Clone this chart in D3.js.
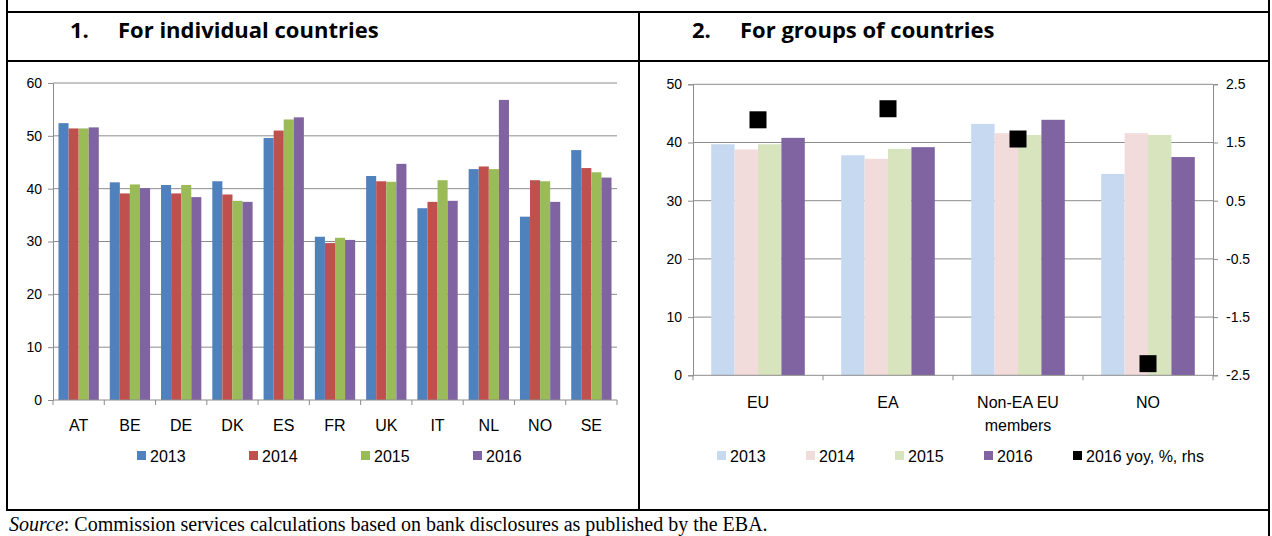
<!DOCTYPE html>
<html>
<head>
<meta charset="utf-8">
<script src="https://cdn.jsdelivr.net/npm/d3@7"></script>
<style>
  html, body { margin: 0; padding: 0; background: #fff; }
  svg { display: block; }
  .lbl { font-family: "Liberation Sans Narrow", "Arial Narrow", "Liberation Sans", sans-serif; fill: #000; }
  .hdr { font-family: "Open Sans", "Liberation Sans", Arial, sans-serif; font-weight: bold; font-size: 22px; fill: #000; }
  .src { font-family: "Liberation Serif", "Times New Roman", serif; font-size: 20px; fill: #000; }
</style>
</head>
<body>
<svg id="chart" width="1272" height="536"></svg>
<script>
// Panel 1: individual countries
const countries = ["AT", "BE", "DE", "DK", "ES", "FR", "UK", "IT", "NL", "NO", "SE"];
const years = ["2013", "2014", "2015", "2016"];
const country2013 = [52.4, 41.2, 40.7, 41.4, 49.6, 30.9, 42.4, 36.3, 43.7, 34.7, 47.3];
const country2014 = [51.4, 39.1, 39.1, 38.9, 51.0, 29.7, 41.4, 37.5, 44.2, 41.6, 43.9];
const country2015 = [51.4, 40.8, 40.7, 37.7, 53.1, 30.7, 41.3, 41.6, 43.7, 41.4, 43.1];
const country2016 = [51.6, 40.1, 38.4, 37.5, 53.5, 30.3, 44.7, 37.7, 56.8, 37.5, 42.1];
const countryTicks = [0, 10, 20, 30, 40, 50, 60];

// Panel 2: groups of countries
const groups = ["EU", "EA", "Non-EA EU members", "NO"];
const group2013 = [39.7, 37.8, 43.2, 34.6];
const group2014 = [38.8, 37.2, 41.6, 41.6];
const group2015 = [39.7, 38.9, 41.3, 41.3];
const group2016 = [40.8, 39.2, 43.9, 37.5];
const groupYoy2016 = [1.89, 2.08, 1.56, -2.30];
const groupTicks = [0, 10, 20, 30, 40, 50];
const yoyTicks = [-2.5, -1.5, -0.5, 0.5, 1.5, 2.5];
const yoyLabel = "2016 yoy, %, rhs";

const colorsBright = ["#4F81BD", "#C0504D", "#9BBB59", "#8064A2"];
const colorsPale = ["#C6D9F1", "#F2DCDB", "#D7E4BD", "#8064A2"];

const svg = d3.select("#chart");
const gridColor = "#8c8c8c";

// ---- table frame ----
const frame = svg.append("g").attr("stroke", "#000").attr("stroke-width", 2);
[[7, 0, 7, 510], [1269, 0, 1269, 536], [639, 12, 639, 510],
 [6, 12, 1270, 12], [6, 61, 1270, 61], [6, 510, 1270, 510]]
  .forEach(([x1, y1, x2, y2]) => frame.append("line")
    .attr("x1", x1).attr("y1", y1).attr("x2", x2).attr("y2", y2));

// panel headings
function heading(x, num, title) {
  svg.append("text").attr("class", "hdr").attr("x", x).attr("y", 38).text(num);
  svg.append("text").attr("class", "hdr").attr("x", x + 48).attr("y", 38).text(title);
}
heading(70, "1.", "For individual countries");
heading(692, "2.", "For groups of countries");

// source line
const src = svg.append("text").attr("class", "src").attr("x", 9).attr("y", 531);
src.append("tspan").attr("font-style", "italic").text("Source");
src.append("tspan").text(": Commission services calculations based on bank disclosures as published by the EBA.");

function styleAxis(g) {
  g.select(".domain").attr("stroke", gridColor);
  g.selectAll(".tick line").attr("stroke", gridColor);
}

// ---- Panel 1 ----
(function () {
  const left = 53, right = 617, top = 83, bottom = 400;
  const series = [country2013, country2014, country2015, country2016];
  const x0 = d3.scaleBand().domain(countries).range([left, right]).paddingInner(0.214).paddingOuter(0.107);
  const x1 = d3.scaleBand().domain(years).range([0, x0.bandwidth()]);
  const y = d3.scaleLinear().domain([0, 60]).range([bottom, top]);

  svg.append("g").selectAll("line").data(countryTicks.filter(t => t > 0)).join("line")
    .attr("x1", left).attr("x2", right)
    .attr("y1", d => y(d)).attr("y2", d => y(d))
    .attr("stroke", gridColor).attr("stroke-width", 1);

  const yAxis = svg.append("g").attr("transform", `translate(${left},0)`)
    .call(d3.axisLeft(y).tickValues(countryTicks).tickSize(5).tickPadding(6));
  styleAxis(yAxis);
  yAxis.selectAll("text").attr("class", "lbl").attr("font-size", 14).attr("fill", "#1a1a1a");

  const bars = svg.append("g");
  countries.forEach((c, i) => {
    years.forEach((yr, j) => {
      const v = series[j][i];
      bars.append("rect")
        .attr("x", x0(c) + x1(yr)).attr("width", x1.bandwidth())
        .attr("y", y(v)).attr("height", y(0) - y(v))
        .attr("fill", colorsBright[j]);
    });
  });

  // category axis with ticks at group boundaries
  const bounds = countries.map(c => x0(c) - x0.step() * x0.paddingInner() / 2).concat([right]);
  const xa = svg.append("g");
  xa.append("line").attr("x1", left).attr("x2", right).attr("y1", bottom).attr("y2", bottom)
    .attr("stroke", gridColor);
  xa.selectAll(".tk").data(bounds).join("line").attr("class", "tk")
    .attr("x1", d => d).attr("x2", d => d).attr("y1", bottom).attr("y2", bottom + 5)
    .attr("stroke", gridColor);
  xa.selectAll("text").data(countries).join("text").attr("class", "lbl")
    .attr("x", d => x0(d) + x0.bandwidth() / 2).attr("y", 431)
    .attr("text-anchor", "middle").attr("font-size", 16).text(d => d);

  // legend
  const lg = svg.append("g");
  years.forEach((yr, j) => {
    const lx = 137 + j * 112;
    lg.append("rect").attr("x", lx).attr("y", 451).attr("width", 9).attr("height", 9).attr("fill", colorsBright[j]);
    lg.append("text").attr("class", "lbl").attr("x", lx + 13).attr("y", 462).attr("font-size", 16).text(yr);
  });
})();

// ---- Panel 2 ----
(function () {
  const left = 693, right = 1213, top = 84.3, bottom = 375.3;
  const series = [group2013, group2014, group2015, group2016];
  const x0 = d3.scaleBand().domain(groups).range([left, right]).paddingInner(0.28).paddingOuter(0.14);
  const x1 = d3.scaleBand().domain(years).range([0, x0.bandwidth()]);
  const y = d3.scaleLinear().domain([0, 50]).range([bottom, top]);
  const y2 = d3.scaleLinear().domain([-2.5, 2.5]).range([bottom, top]);

  svg.append("g").selectAll("line").data(groupTicks.filter(t => t > 0)).join("line")
    .attr("x1", left).attr("x2", right)
    .attr("y1", d => y(d)).attr("y2", d => y(d))
    .attr("stroke", gridColor).attr("stroke-width", 1);

  const yAxis = svg.append("g").attr("transform", `translate(${left},0)`)
    .call(d3.axisLeft(y).tickValues(groupTicks).tickSize(5).tickPadding(6));
  styleAxis(yAxis);
  yAxis.selectAll("text").attr("class", "lbl").attr("font-size", 14).attr("fill", "#1a1a1a");

  const yAxis2 = svg.append("g").attr("transform", `translate(${right},0)`)
    .call(d3.axisRight(y2).tickValues(yoyTicks).tickSize(5).tickPadding(8).tickFormat(d => d.toFixed(1)));
  styleAxis(yAxis2);
  yAxis2.selectAll("text").attr("class", "lbl").attr("font-size", 14).attr("fill", "#1a1a1a");

  const bars = svg.append("g");
  groups.forEach((g, i) => {
    years.forEach((yr, j) => {
      const v = series[j][i];
      bars.append("rect")
        .attr("x", x0(g) + x1(yr)).attr("width", x1.bandwidth())
        .attr("y", y(v)).attr("height", y(0) - y(v))
        .attr("fill", colorsPale[j]);
    });
  });

  const bounds = groups.map(g => x0(g) - x0.step() * x0.paddingInner() / 2).concat([right]);
  const xa = svg.append("g");
  xa.append("line").attr("x1", left).attr("x2", right).attr("y1", bottom).attr("y2", bottom)
    .attr("stroke", gridColor);
  xa.selectAll(".tk").data(bounds).join("line").attr("class", "tk")
    .attr("x1", d => d).attr("x2", d => d).attr("y1", bottom).attr("y2", bottom + 5)
    .attr("stroke", gridColor);

  // category labels, wrapped onto two lines when long
  groups.forEach(g => {
    const words = g.split(" ");
    const lines = words.length > 2 ? [words.slice(0, -1).join(" "), words[words.length - 1]] : [g];
    const t = xa.append("text").attr("class", "lbl").attr("text-anchor", "middle").attr("font-size", 16);
    lines.forEach((ln, k) => t.append("tspan")
      .attr("x", x0(g) + x0.bandwidth() / 2).attr("y", 408 + k * 23).text(ln));
  });

  // 2016 yoy markers on right-hand scale
  const ms = 17;
  svg.append("g").selectAll("rect").data(groups).join("rect")
    .attr("x", (d) => x0(d) + x0.bandwidth() / 2 - ms / 2)
    .attr("y", (d, i) => y2(groupYoy2016[i]) - ms / 2)
    .attr("width", ms).attr("height", ms).attr("fill", "#000");

  // legend
  const lg = svg.append("g");
  const items = years.map((yr, j) => ({ label: yr, color: colorsPale[j] }))
    .concat([{ label: yoyLabel, color: "#000" }]);
  items.forEach((it, j) => {
    const lx = 717 + j * 89;
    lg.append("rect").attr("x", lx).attr("y", 451).attr("width", 9).attr("height", 9).attr("fill", it.color);
    lg.append("text").attr("class", "lbl").attr("x", lx + 13).attr("y", 462).attr("font-size", 16).text(it.label);
  });
})();
</script>
</body>
</html>
